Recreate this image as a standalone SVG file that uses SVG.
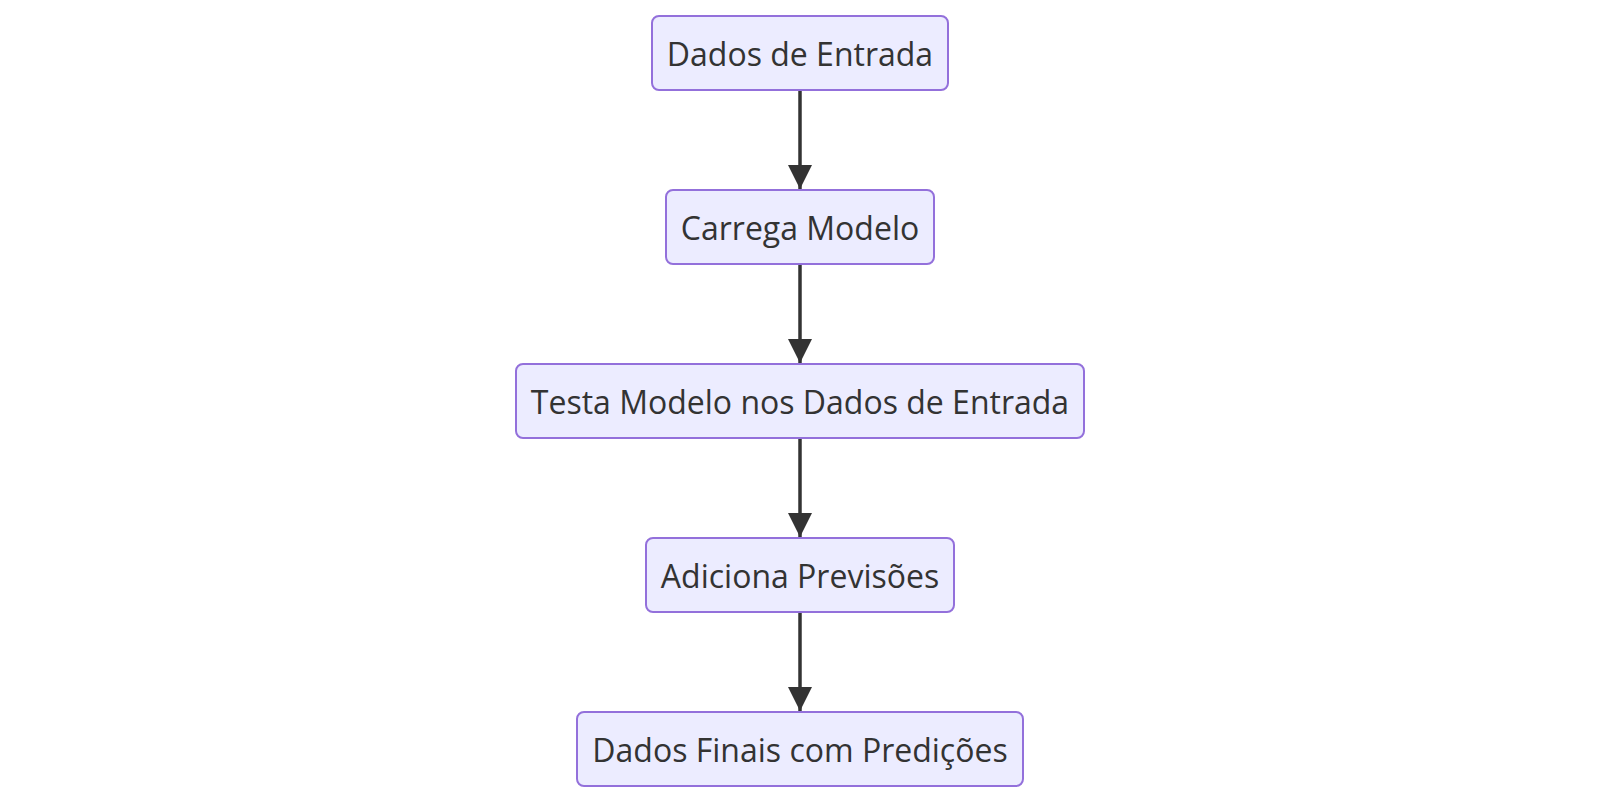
<svg xmlns="http://www.w3.org/2000/svg" width="1600" height="802" viewBox="0 0 1600 802">
<style>
.node rect{fill:#ECECFF;stroke:#9370DB;stroke-width:2}
.node text{font-family:"Open Sans",sans-serif;font-size:32px;fill:#333333;text-anchor:middle;dominant-baseline:central}
.edge{stroke:#333333;stroke-width:3.5;fill:none}
</style>
<defs>
<marker id="arrow" markerUnits="userSpaceOnUse" markerWidth="24" markerHeight="24" refX="24" refY="12" orient="auto" viewBox="0 0 24 24">
<path d="M0,0 L24,12 L0,24 Z" fill="#333333"/>
</marker>
</defs>
<rect width="1600" height="802" fill="#ffffff"/>
<g id="connectors">
<line class="edge" x1="800" y1="91" x2="800" y2="189" marker-end="url(#arrow)"/>
<line class="edge" x1="800" y1="265" x2="800" y2="363" marker-end="url(#arrow)"/>
<line class="edge" x1="800" y1="439" x2="800" y2="537" marker-end="url(#arrow)"/>
<line class="edge" x1="800" y1="613" x2="800" y2="711" marker-end="url(#arrow)"/>
</g>
<g id="n1" class="node"><rect x="652" y="16" width="296" height="74" rx="7"/><text x="800" y="53">Dados de Entrada</text></g>
<g id="n2" class="node"><rect x="666" y="190" width="268" height="74" rx="7"/><text x="800" y="227">Carrega Modelo</text></g>
<g id="n3" class="node"><rect x="516" y="364" width="568" height="74" rx="7"/><text x="800" y="401">Testa Modelo nos Dados de Entrada</text></g>
<g id="n4" class="node"><rect x="646" y="538" width="308" height="74" rx="7"/><text x="800" y="575">Adiciona Previsões</text></g>
<g id="n5" class="node"><rect x="577" y="712" width="446" height="74" rx="7"/><text x="800" y="749">Dados Finais com Predições</text></g>
</svg>
